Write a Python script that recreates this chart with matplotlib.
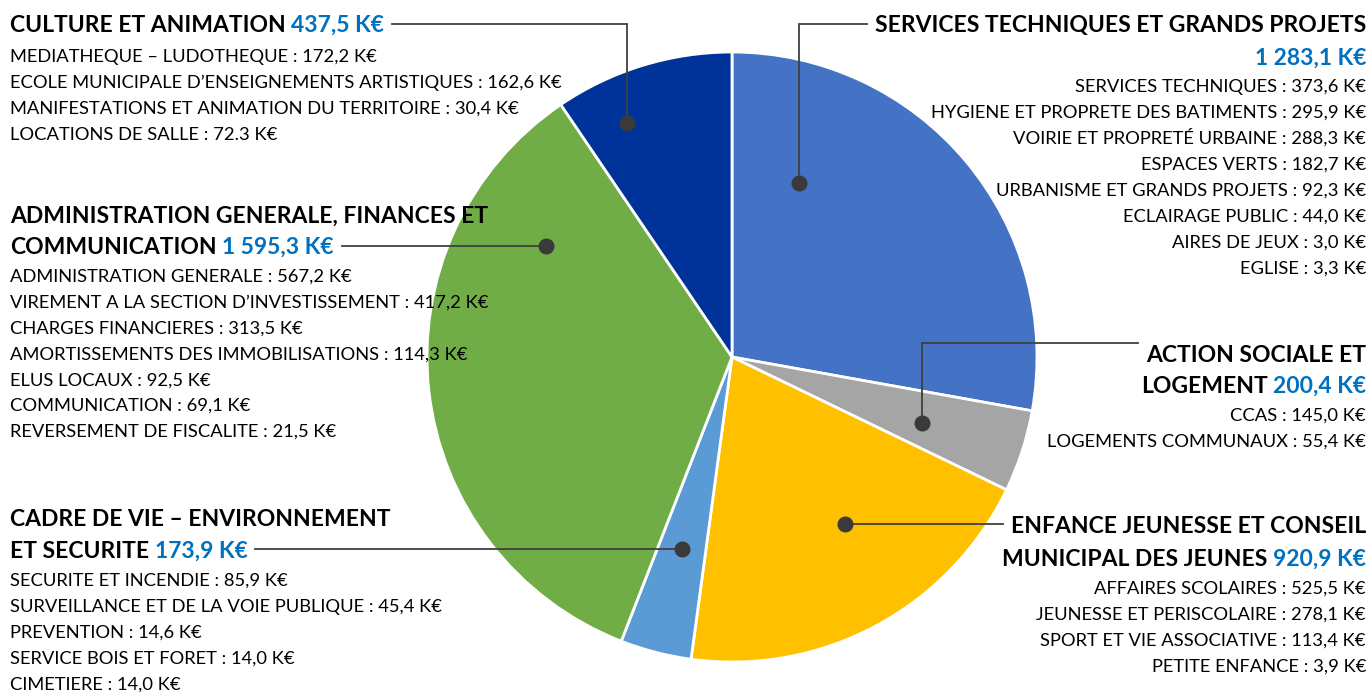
import matplotlib
matplotlib.use("Agg")
import matplotlib.pyplot as plt
import numpy as np

# ---------------- DATA ----------------
categories = [
    "SERVICES TECHNIQUES ET GRANDS PROJETS",
    "ACTION SOCIALE ET LOGEMENT",
    "ENFANCE JEUNESSE ET CONSEIL MUNICIPAL DES JEUNES",
    "CADRE DE VIE – ENVIRONNEMENT ET SECURITE",
    "ADMINISTRATION GENERALE, FINANCES ET COMMUNICATION",
    "CULTURE ET ANIMATION",
]
values = [1283.1, 200.4, 920.9, 173.9, 1595.3, 437.5]

services_items = ["SERVICES TECHNIQUES", "HYGIENE ET PROPRETE DES BATIMENTS",
                  "VOIRIE ET PROPRETÉ URBAINE", "ESPACES VERTS",
                  "URBANISME ET GRANDS PROJETS", "ECLAIRAGE PUBLIC",
                  "AIRES DE JEUX", "EGLISE"]
services_values = ["373,6", "295,9", "288,3", "182,7", "92,3", "44,0", "3,0", "3,3"]

action_items = ["CCAS", "LOGEMENTS COMMUNAUX"]
action_values = ["145,0", "55,4"]

enfance_items = ["AFFAIRES SCOLAIRES", "JEUNESSE ET PERISCOLAIRE",
                 "SPORT ET VIE ASSOCIATIVE", "PETITE ENFANCE"]
enfance_values = ["525,5", "278,1", "113,4", "3,9"]

cadre_items = ["SECURITE ET INCENDIE", "SURVEILLANCE ET DE LA VOIE PUBLIQUE",
               "PREVENTION", "SERVICE BOIS ET FORET", "CIMETIERE"]
cadre_values = ["85,9", "45,4", "14,6", "14,0", "14,0"]

admin_items = ["ADMINISTRATION GENERALE", "VIREMENT A LA SECTION D’INVESTISSEMENT",
               "CHARGES FINANCIERES", "AMORTISSEMENTS DES IMMOBILISATIONS",
               "ELUS LOCAUX", "COMMUNICATION", "REVERSEMENT DE FISCALITE"]
admin_values = ["567,2", "417,2", "313,5", "114,3", "92,5", "69,1", "21,5"]

culture_items = ["MEDIATHEQUE – LUDOTHEQUE", "ECOLE MUNICIPALE D’ENSEIGNEMENTS ARTISTIQUES",
                 "MANIFESTATIONS ET ANIMATION DU TERRITOIRE", "LOCATIONS DE SALLE"]
culture_values = ["172,2", "162,6", "30,4", "72.3"]

# ---------------- STYLE / LAYOUT ----------------
colors = ["#4472C4", "#A5A5A5", "#FFC000", "#5B9BD5", "#70AD47", "#003399"]
BLUE_TXT = "#0070C0"
LINE_C = "#404040"
FONT = "Lato"

W, H = 1372, 693
CX, CY, R = 732, 357, 305

def fmt_total(v):
    return f"{v:,.1f}".replace(",", " ").replace(".", ",") + " K€"

layout = [
    dict(title=["SERVICES TECHNIQUES ET GRANDS PROJETS", ""], x=1366, ha="right",
         tb=[32, 65], sb=92, step=25.9, items=services_items, vals=services_values,
         dot=(0.21, 0.61), leader=("elbow", 24, 0)),
    dict(title=["ACTION SOCIALE ET", "LOGEMENT"], x=1366, ha="right",
         tb=[362, 393], sb=421, step=26, items=action_items, vals=action_values,
         dot=(0.57, 0.66), leader=("elbow", 343, 0)),
    dict(title=["ENFANCE JEUNESSE ET CONSEIL", "MUNICIPAL DES JEUNES"], x=1366, ha="right",
         tb=[533, 566], sb=594, step=26, items=enfance_items, vals=enfance_values,
         dot=(0.42, 0.66), leader=("straight", None, 0)),
    dict(title=["CADRE DE VIE – ENVIRONNEMENT", "ET SECURITE"], x=10, ha="left",
         tb=[526, 558], sb=586, step=25.8, items=cadre_items, vals=cadre_values,
         dot=(0.50, 0.65), leader=("straight", None, -1)),
    dict(title=["ADMINISTRATION GENERALE, FINANCES ET", "COMMUNICATION"], x=10, ha="left",
         tb=[223, 254], sb=282, step=25.8, items=admin_items, vals=admin_values,
         dot=(0.80, 0.71), leader=("straight", None, -1)),
    dict(title=["CULTURE ET ANIMATION"], x=10, ha="left",
         tb=[32], sb=62, step=26, items=culture_items, vals=culture_values,
         dot=(0.29, 0.84), leader=("elbow", 24, 0)),
]

fig = plt.figure(figsize=(W / 100, H / 100), dpi=100)
ax = fig.add_axes([0, 0, 1, 1])

wedges, _ = ax.pie(values, colors=colors, startangle=-90, counterclock=True,
                   center=(CX, CY), radius=R,
                   wedgeprops=dict(edgecolor="white", linewidth=2.0))
ax.set_xlim(0, W)
ax.set_ylim(H, 0)
ax.set_aspect("auto")
ax.axis("off")

fig.canvas.draw()
renderer = fig.canvas.get_renderer()

def width_of(s, size, weight):
    t = ax.text(0, 0, s, fontsize=size, fontweight=weight, family=FONT)
    w = t.get_window_extent(renderer).width
    t.remove()
    return w

# fit font sizes to the reference text widths
body_size = 12.0 * 552 / width_of("ECOLE MUNICIPALE D’ENSEIGNEMENTS ARTISTIQUES : 162,6 K€", 12.0, "normal")
title_size = 14.0 * 375 / width_of("CULTURE ET ANIMATION 437,5 K€", 14.0, "bold")
gap_title = width_of("X X", title_size, "bold") - width_of("XX", title_size, "bold")

for wedge, v, L in zip(wedges, values, layout):
    # title lines
    line_boxes = []
    blue = fmt_total(v)
    for i, (txt, yb) in enumerate(zip(L["title"], L["tb"])):
        last = i == len(L["title"]) - 1
        if L["ha"] == "left":
            t1 = ax.text(L["x"], yb, txt, fontsize=title_size, fontweight="bold",
                         family=FONT, color="black", va="baseline", ha="left", zorder=5)
            bb = t1.get_window_extent(renderer)
            left, right = bb.x0, bb.x1
            if last:
                x2 = right + gap_title if txt else L["x"]
                t2 = ax.text(x2, yb, blue, fontsize=title_size, fontweight="bold",
                             family=FONT, color=BLUE_TXT, va="baseline", ha="left", zorder=5)
                right = t2.get_window_extent(renderer).x1
        else:
            if last:
                t2 = ax.text(L["x"], yb, blue, fontsize=title_size, fontweight="bold",
                             family=FONT, color=BLUE_TXT, va="baseline", ha="right", zorder=5)
                bb2 = t2.get_window_extent(renderer)
                right = bb2.x1
                left = bb2.x0
                if txt:
                    t1 = ax.text(bb2.x0 - gap_title, yb, txt, fontsize=title_size,
                                 fontweight="bold", family=FONT, color="black",
                                 va="baseline", ha="right", zorder=5)
                    left = t1.get_window_extent(renderer).x0
            else:
                t1 = ax.text(L["x"], yb, txt, fontsize=title_size, fontweight="bold",
                             family=FONT, color="black", va="baseline", ha="right", zorder=5)
                bb = t1.get_window_extent(renderer)
                left, right = bb.x0, bb.x1
        line_boxes.append((left, right))

    # sub items
    for j, (name, val) in enumerate(zip(L["items"], L["vals"])):
        ax.text(L["x"], L["sb"] + j * L["step"], f"{name} : {val} K€",
                fontsize=body_size, family=FONT, color="black",
                va="baseline", ha=L["ha"], zorder=5)

    # dot inside wedge
    fa, fr = L["dot"]
    th = np.deg2rad(wedge.theta1 + fa * (wedge.theta2 - wedge.theta1))
    dx = CX + fr * R * np.cos(th)
    dy = CY + fr * R * np.sin(th)
    ax.plot([dx], [dy], "o", color="#3A3A3A", markersize=10.5, zorder=4)

    kind, ylev, idx = L["leader"]
    left, right = line_boxes[idx]
    xend = right + 8 if L["ha"] == "left" else left - 8
    if kind == "elbow":
        ax.plot([dx, dx, xend], [dy, ylev, ylev], color=LINE_C, lw=1.3, zorder=3,
                solid_joinstyle="miter")
    else:
        ax.plot([dx, xend], [dy, dy], color=LINE_C, lw=1.3, zorder=3)

fig.savefig("out.png", dpi=100, facecolor="white")
